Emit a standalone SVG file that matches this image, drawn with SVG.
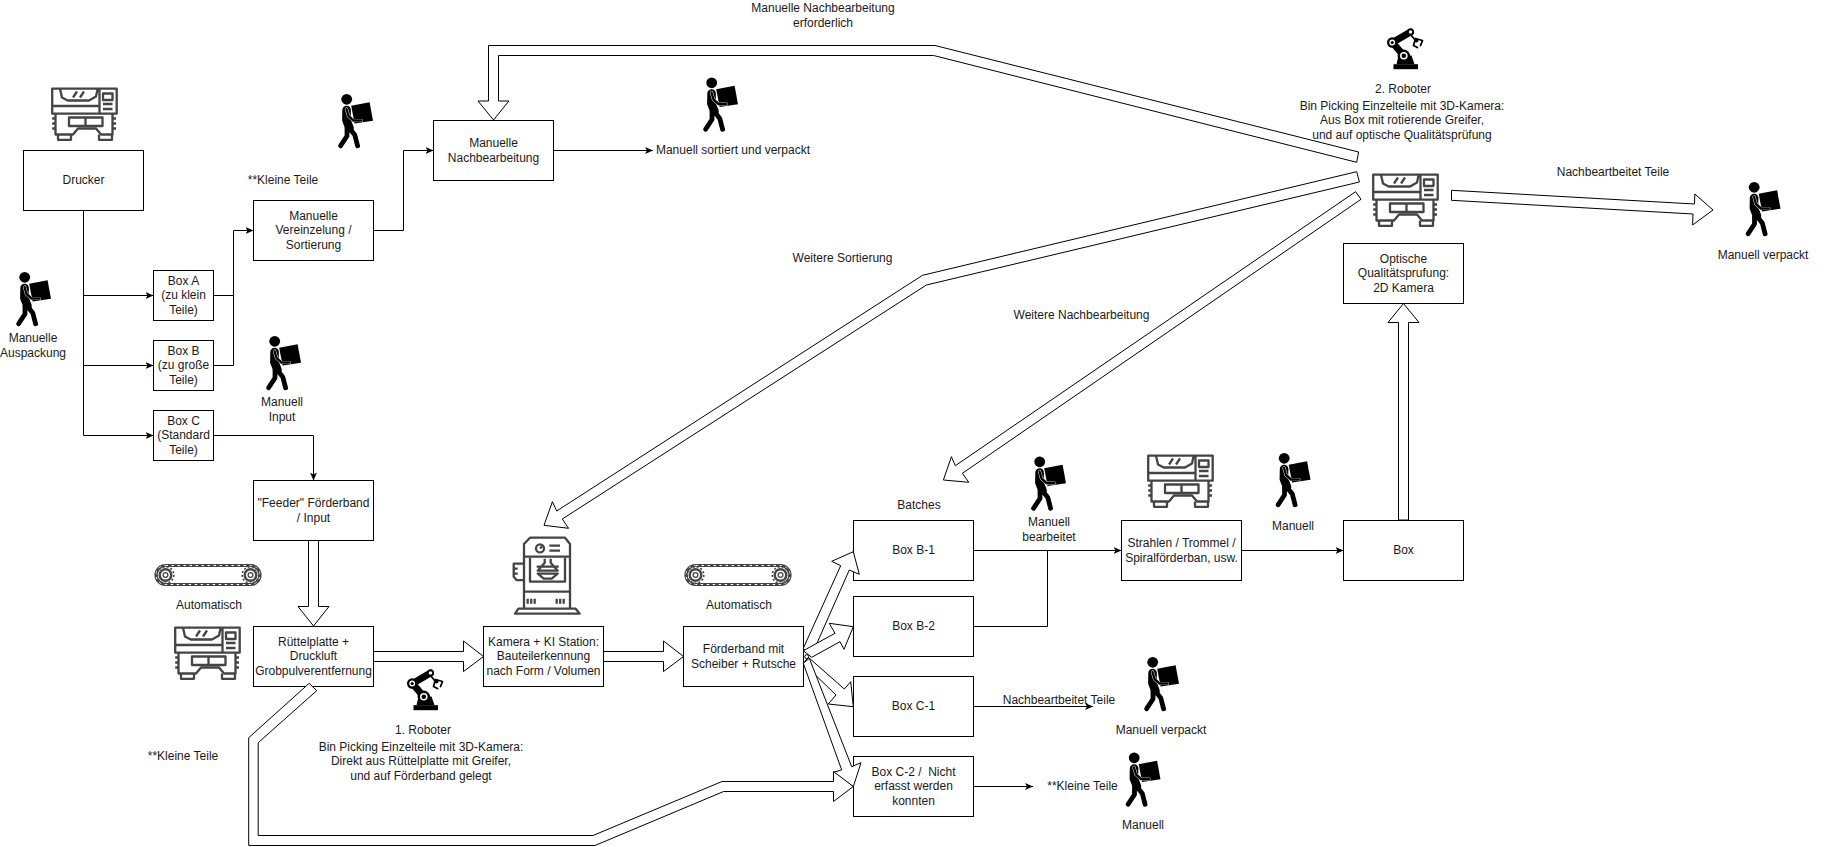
<svg xmlns="http://www.w3.org/2000/svg" xmlns:xlink="http://www.w3.org/1999/xlink" width="1844" height="847" viewBox="0 0 1844 847">
<style>
text{font-family:"Liberation Sans",Arial,sans-serif;font-size:12px;fill:#1a1a1a;text-anchor:middle}
.box{fill:#fff;stroke:#000;stroke-width:1}
.line{fill:none;stroke:#000;stroke-width:1;marker-end:url(#arrow)}
.plain{fill:none;stroke:#000;stroke-width:1}
.block{fill:#fff;stroke:#000;stroke-width:1;stroke-linejoin:miter}
.ic{fill:none;stroke:#444;stroke-width:2.3;stroke-linejoin:round}
.bk{fill:none;stroke:#000;stroke-linecap:round;stroke-linejoin:round}
</style>
<defs>
<marker id="arrow" markerUnits="userSpaceOnUse" markerWidth="9" markerHeight="9" refX="8" refY="4.5" orient="auto">
<path d="M0,1 L8,4.5 L0,8 L2,4.5 Z" fill="#000"/>
</marker>
<g id="person">
<circle cx="8.7" cy="5.3" r="5.4" fill="#000"/>
<path d="M13.2,11.7 L31.6,8.3 L35,26.7 L16.6,29.5 Z" fill="#000"/>
<path class="bk" stroke-width="8.6" d="M8.6,16 L8.4,26 L11.5,34"/>
<path class="bk" stroke-width="4.8" d="M12,35 L16.8,41 L19.6,51.8"/>
<path class="bk" stroke-width="4.8" d="M9,34 L9,42 L2.6,51.8"/>
<path fill="none" stroke="#fff" stroke-width="3.2" stroke-linejoin="round" stroke-linecap="round" d="M8.5,15 L10.5,22 L15.5,26.5 L23.5,26.5"/>
<path class="bk" stroke-width="2.4" d="M8.5,15 L10.5,22 L15.5,26.5 L23.5,26.5"/>
</g>
<g id="printer">
<rect class="ic" x="1.2" y="1.2" width="64.5" height="25"/>
<path class="ic" d="M9,1.2 L11,10 L16.7,13 L38,13 L45,9 L46.7,1.2 M48.5,1.2 L48.5,26 M1.2,18.5 L48.5,18.5"/>
<path class="ic" stroke-width="1.8" d="M22,10 L26,4 M29,10 L33,4"/>
<rect class="ic" x="52" y="6" width="9.5" height="6.5"/>
<path class="ic" d="M52,16.5 L61.5,16.5 M52,21.5 L61.5,21.5"/>
<path class="ic" d="M4.5,26 L4.5,47 L22,47 L27,41 L45,41 L50,47 L61.5,47 L61.5,26"/>
<path class="ic" d="M7,47 L7,52.3 L20,52.3 L20,47 M48,47 L48,52.3 L61,52.3 L61,47"/>
<rect class="ic" x="18" y="30" width="33.5" height="8.5"/>
<path class="ic" d="M34.5,30 L34.5,38.5 M1.2,31 L4.5,31 M1.2,36 L4.5,36 M1.2,41 L4.5,41 M61.5,31 L65,31 M61.5,36 L65,36 M61.5,41 L65,41"/>
</g>
<g id="robot">
<rect x="7" y="35.7" width="24.5" height="5" fill="#000"/>
<path d="M10,35.7 L12,27 L25,27 L28,35.7 Z" fill="#000"/>
<path class="bk" stroke-width="7" d="M6,14 L17.3,27.3 M6,14 L24,3.5"/>
<circle cx="17.3" cy="27.3" r="6.2" fill="#000"/><circle cx="17.3" cy="27.3" r="3.8" fill="#fff"/><circle cx="17.3" cy="27.3" r="2.3" fill="#000"/>
<circle cx="5.7" cy="14" r="5.2" fill="#000"/><circle cx="5.7" cy="14" r="2.9" fill="#fff"/><circle cx="5.7" cy="14" r="1.6" fill="#000"/>
<circle cx="24" cy="3.5" r="3.4" fill="#000"/><circle cx="24" cy="3.5" r="1.7" fill="#fff"/>
<path class="bk" stroke-width="1.8" d="M24,6 L29,12"/>
<path class="bk" stroke-width="1.8" fill="none" d="M29,10 L36,12 L34,17 M29,10 L27,17 L31,19"/>
<circle cx="30" cy="12" r="2" fill="#000"/>
</g>
<g id="press">
<path class="ic" d="M17.3,1 L52.3,1 L57.3,7.3 L57.3,20 L11.3,20 L11.3,7.3 Z"/>
<circle class="ic" cx="27.3" cy="11.7" r="4"/>
<path class="ic" d="M27.3,11.7 L29.5,9.5 M36.7,9 L47.3,9 M36.7,14 L47.3,14"/>
<path class="ic" d="M11.3,20 L11.3,72 M57.3,20 L57.3,72 M11.3,55 L57.3,55 M17.3,21 L17.3,45 L52.3,45 L52.3,21"/>
<path class="ic" d="M32,22 L32,26 L25,34 L45,34 L38,26 L38,22 M24,30 L46,30 M25,37 L45,37 L39,42 L31,42 Z"/>
<path class="ic" d="M15,62 L15,67 M18.5,62 L18.5,67 M22,62 L22,67 M44,62 L44,67 M47.5,62 L47.5,67 M51,62 L51,67"/>
<path class="ic" d="M5.7,72 L63,72 L67,77 L2.3,77 Z M11.3,27 L1,27 L1,40 L4,43.5 L11.3,43.5 M1,32 L5,32 M1,37 L5,37"/>
</g>
<g id="conveyor">
<rect x="2" y="2" width="104" height="19" rx="9.5" fill="none" stroke="#444" stroke-width="3.2"/>
<rect x="2" y="2" width="104" height="19" rx="9.5" fill="none" stroke="#fff" stroke-width="1" stroke-dasharray="2.5 3.5"/>
<circle cx="11.5" cy="11.5" r="7" fill="#444"/><circle cx="96.5" cy="11.5" r="7" fill="#444"/>
<circle cx="11.5" cy="11.5" r="8.3" fill="none" stroke="#444" stroke-width="1.6" stroke-dasharray="2 2"/>
<circle cx="96.5" cy="11.5" r="8.3" fill="none" stroke="#444" stroke-width="1.6" stroke-dasharray="2 2"/>
<circle cx="11.5" cy="11.5" r="4.6" fill="#fff"/><circle cx="96.5" cy="11.5" r="4.6" fill="#fff"/>
<circle cx="11.5" cy="11.5" r="2.4" fill="none" stroke="#444" stroke-width="1.3"/><circle cx="96.5" cy="11.5" r="2.4" fill="none" stroke="#444" stroke-width="1.3"/>
</g>
</defs>
<rect width="1844" height="847" fill="#fff"/>

<g id="nodes">
<g id="drucker"><rect class="box" x="23.5" y="150.5" width="120" height="60"/><text x="83.5" y="184">Drucker</text></g>
<g id="box-a"><rect class="box" x="153.5" y="270.5" width="60" height="50"/><text x="183.5" y="285">Box A</text><text x="183.5" y="299">(zu klein</text><text x="183.5" y="314">Teile)</text></g>
<g id="box-b"><rect class="box" x="153.5" y="340.5" width="60" height="50"/><text x="183.5" y="355">Box B</text><text x="183.5" y="369">(zu große</text><text x="183.5" y="384">Teile)</text></g>
<g id="box-c"><rect class="box" x="153.5" y="410.5" width="60" height="50"/><text x="183.5" y="425">Box C</text><text x="183.5" y="439">(Standard</text><text x="183.5" y="454">Teile)</text></g>
<g id="vereinzelung"><rect class="box" x="253.5" y="200.5" width="120" height="60"/><text x="313.5" y="220">Manuelle</text><text x="313.5" y="234">Vereinzelung /</text><text x="313.5" y="249">Sortierung</text></g>
<g id="nachbearbeitung"><rect class="box" x="433.5" y="120.5" width="120" height="60"/><text x="493.5" y="147">Manuelle</text><text x="493.5" y="162">Nachbearbeitung</text></g>
<g id="feeder"><rect class="box" x="253.5" y="480.5" width="120" height="60"/><text x="313.5" y="507">"Feeder" Förderband</text><text x="313.5" y="522">/ Input</text></g>
<g id="ruettelplatte"><rect class="box" x="253.5" y="626.5" width="120" height="60"/><text x="313.5" y="646">Rüttelplatte +</text><text x="313.5" y="660">Druckluft</text><text x="313.5" y="675">Grobpulverentfernung</text></g>
<g id="kamera"><rect class="box" x="483.5" y="626.5" width="120" height="60"/><text x="543.5" y="646">Kamera + KI Station:</text><text x="543.5" y="660">Bauteilerkennung</text><text x="543.5" y="675">nach Form / Volumen</text></g>
<g id="foerderband"><rect class="box" x="683.5" y="626.5" width="120" height="60"/><text x="743.5" y="653">Förderband mit</text><text x="743.5" y="668">Scheiber + Rutsche</text></g>
<g id="box-b1"><rect class="box" x="853.5" y="520.5" width="120" height="60"/><text x="913.5" y="554">Box B-1</text></g>
<g id="box-b2"><rect class="box" x="853.5" y="596.5" width="120" height="60"/><text x="913.5" y="630">Box B-2</text></g>
<g id="box-c1"><rect class="box" x="853.5" y="676.5" width="120" height="60"/><text x="913.5" y="710">Box C-1</text></g>
<g id="box-c2"><rect class="box" x="853.5" y="756.5" width="120" height="60"/><text x="913.5" y="776">Box C-2 / &#160;Nicht</text><text x="913.5" y="790">erfasst werden</text><text x="913.5" y="805">konnten</text></g>
<g id="strahlen"><rect class="box" x="1121.5" y="520.5" width="120" height="60"/><text x="1181.5" y="547">Strahlen / Trommel /</text><text x="1181.5" y="562">Spiralförderban, usw.</text></g>
<g id="box-final"><rect class="box" x="1343.5" y="520.5" width="120" height="60"/><text x="1403.5" y="554">Box</text></g>
<g id="optische"><rect class="box" x="1343.5" y="243.5" width="120" height="60"/><text x="1403.5" y="263">Optische</text><text x="1403.5" y="277">Qualitätsprufung:</text><text x="1403.5" y="292">2D Kamera</text></g>
</g>

<g id="connectors">
<path class="line" d="M83.5,210.5 L83.5,435.5 L153.5,435.5"/>
<path class="line" d="M83.5,295.5 L153.5,295.5"/>
<path class="line" d="M83.5,365.5 L153.5,365.5"/>
<path class="line" d="M213.5,295.5 L233.5,295.5 L233.5,230.5 L253.5,230.5"/>
<path class="plain" d="M213.5,365.5 L233.5,365.5 L233.5,295.5"/>
<path class="line" d="M373.5,230.5 L403.5,230.5 L403.5,150.5 L433.5,150.5"/>
<path class="line" d="M553.5,150.5 L653,150.5"/>
<path class="line" d="M213.5,435.5 L313.5,435.5 L313.5,480.5"/>
<path class="line" d="M973.5,550.5 L1121.5,550.5"/>
<path class="plain" d="M973.5,626.5 L1047.5,626.5 L1047.5,550.5"/>
<path class="line" d="M1241.5,550.5 L1343.5,550.5"/>
<path class="line" d="M973.5,706.5 L1093,706.5"/>
<path class="line" d="M973.5,786.5 L1033,786.5"/>
<polygon class="block" points="308.5,540.5 318.5,540.5 318.5,606.5 329,606.5 313.5,626 298,606.5 308.5,606.5"/>
<polygon class="block" points="373.5,651.5 463.5,651.5 463.5,641 483.5,656.5 463.5,671.5 463.5,661.5 373.5,661.5"/>
<polygon class="block" points="603.5,651.5 663.5,651.5 663.5,641 683.5,656.5 663.5,671.5 663.5,661.5 603.5,661.5"/>
<polygon class="block" points="803.3,648.3 840.7,565.7 831.7,561.3 853.3,551.7 859.3,574.3 849.3,570 811,656.7"/>
<polygon class="block" points="803.3,650.7 835,633.3 829.3,623.3 853.3,626.7 844,649.3 840,641.7 811.7,657.3"/>
<polygon class="block" points="808.3,657.3 844.3,689 850.7,681.7 853.3,706.7 828.3,704 836,695 803.3,663.3"/>
<polygon class="block" points="809.3,658.3 851.7,766.7 861,762.7 853.3,786.7 833.3,772.3 841.7,770 803.3,663.3"/>
<circle cx="806.7" cy="656.7" r="2" fill="none" stroke="#000" stroke-width="1"/>
<polygon class="block" points="316.7,690.7 258.2,742.7 258.2,835.5 593,835.5 722,781.5 833.5,781.5 833.5,771.5 853.3,786.5 833.5,801.5 833.5,791.5 723.6,791.5 595,845.5 248.7,845.5 248.7,737.7 309.2,683.3"/>
<polygon class="block" points="1358.6,152 935,45.5 488.5,45.5 488.5,101 478,101 493.5,120 508.9,101 498.5,101 498.5,55.5 933.6,55.5 1356.7,162.3"/>
<polygon class="block" points="1356.7,171.7 922.5,275.3 556.7,511 552.4,501.7 544,525.3 568.6,528.3 562.3,519 926.4,285 1359.4,182"/>
<polygon class="block" points="1355.6,191.7 955.3,465.7 951.4,456.7 943.4,480 968.8,482.3 962.4,473.3 1361,199.3"/>
<polygon class="block" points="1451.5,190.3 1694.5,204 1694.8,194 1713,210 1692.6,225 1693,214 1451.5,200.3"/>
<polygon class="block" points="1398.5,520 1398.5,322.5 1388,322.5 1403.5,303.5 1419,322.5 1408.5,322.5 1408.5,520"/>
</g>

<g id="icons">
<use id="icon-printer-1" href="#printer" x="51" y="87.5"/>
<use id="icon-printer-2" href="#printer" x="174" y="626.5"/>
<use id="icon-printer-3" href="#printer" x="1147" y="454.5"/>
<use id="icon-printer-4" href="#printer" x="1372" y="173.5"/>
<use id="icon-person-1" href="#person" x="16" y="272"/>
<use id="icon-person-2" href="#person" x="338" y="94"/>
<use id="icon-person-3" href="#person" x="266" y="336"/>
<use id="icon-person-4" href="#person" x="703" y="77.5"/>
<use id="icon-person-5" href="#person" x="1031" y="456.5"/>
<use id="icon-person-6" href="#person" x="1275.5" y="453"/>
<use id="icon-person-7" href="#person" x="1745.5" y="182"/>
<use id="icon-person-8" href="#person" x="1144" y="657"/>
<use id="icon-person-9" href="#person" x="1125.5" y="752.5"/>
<use id="icon-robot-1" href="#robot" x="406.5" y="669.5"/>
<use id="icon-robot-2" href="#robot" x="1386.5" y="28.5"/>
<use id="icon-press" href="#press" x="512.7" y="536.7"/>
<use id="icon-conveyor-1" href="#conveyor" x="154" y="563.5"/>
<use id="icon-conveyor-2" href="#conveyor" x="684" y="563.5"/>
</g>

<g id="labels">
<text x="33" y="342">Manuelle</text><text x="33" y="357">Auspackung</text>
<text x="283" y="183.5">**Kleine Teile</text>
<text x="282" y="406">Manuell</text><text x="282" y="421">Input</text>
<text x="733" y="154">Manuell sortiert und verpackt</text>
<text x="823" y="12">Manuelle Nachbearbeitung</text><text x="823" y="27">erforderlich</text>
<text x="842.5" y="262">Weitere Sortierung</text>
<text x="1081.5" y="319">Weitere Nachbearbeitung</text>
<text x="1403" y="93">2. Roboter</text>
<text x="1402" y="110">Bin Picking Einzelteile mit 3D-Kamera:</text>
<text x="1402" y="124">Aus Box mit rotierende Greifer,</text>
<text x="1402" y="139">und auf optische Qualitätsprüfung</text>
<text x="1613" y="176">Nachbeartbeitet Teile</text>
<text x="1763" y="259">Manuell verpackt</text>
<text x="1293" y="530">Manuell</text>
<text x="1049" y="526">Manuell</text><text x="1049" y="541">bearbeitet</text>
<text x="919" y="509">Batches</text>
<text x="209" y="609">Automatisch</text>
<text x="739" y="609">Automatisch</text>
<text x="423" y="734">1. Roboter</text>
<text x="421" y="751">Bin Picking Einzelteile mit 3D-Kamera:</text>
<text x="421" y="765">Direkt aus Rüttelplatte mit Greifer,</text>
<text x="421" y="780">und auf Förderband gelegt</text>
<text x="183" y="760">**Kleine Teile</text>
<text x="1059" y="703.5">Nachbeartbeitet Teile</text>
<text x="1161" y="734">Manuell verpackt</text>
<text x="1082.5" y="790">**Kleine Teile</text>
<text x="1143" y="829">Manuell</text>
</g>
</svg>
